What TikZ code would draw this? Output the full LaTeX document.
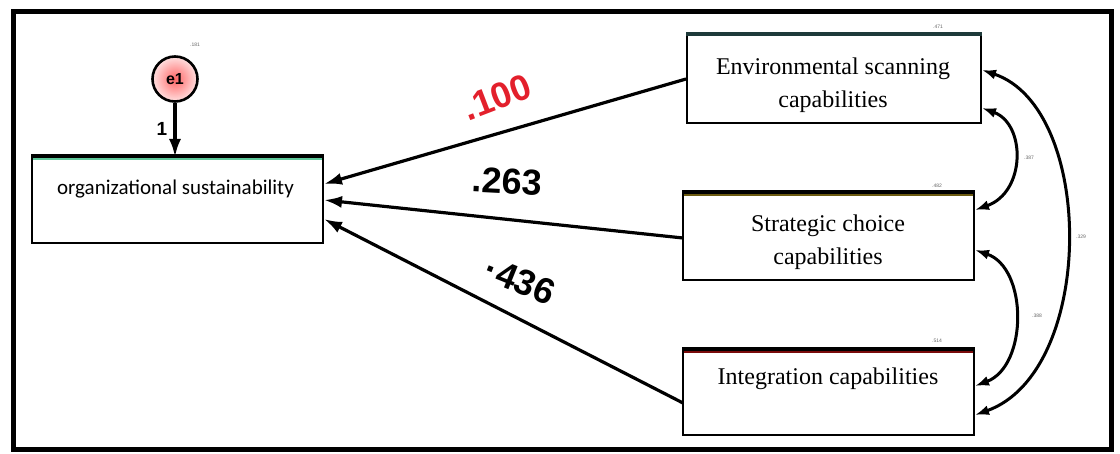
\documentclass[tikz,border=0pt]{standalone}
\usepackage{fontspec}
\setmainfont{Liberation Serif}
\newfontfamily\carl{Carlito}
\newfontfamily\lsans{Liberation Sans}
\usetikzlibrary{arrows.meta,calc}
\definecolor{coefred}{HTML}{E3202C}
\definecolor{topgreen}{HTML}{5FC79A}
\definecolor{topteal}{HTML}{1E3A3A}
\definecolor{topolive}{HTML}{6B5A10}
\definecolor{topred}{HTML}{7A0A0A}
\begin{document}
\begin{tikzpicture}[x=1pt,y=-1pt,
  box/.style={draw, line width=2pt, fill=white, inner sep=0pt},
  pathar/.style={line width=3.2pt, -{Latex[length=18pt,width=12pt]}},
  covar/.style={line width=3pt, {Latex[length=14pt,width=10pt]}-{Latex[length=14pt,width=10pt]}},
  tinylab/.style={font=\lsans\fontsize{5}{5}\selectfont, text=gray!80!black, inner sep=0pt},
  coef/.style={font=\lsans\bfseries\fontsize{36}{36}\selectfont, inner sep=0pt},
  serifbig/.style={font=\fontsize{24}{33}\selectfont, align=center, inner sep=0pt},
  toppart/.style={line width=4pt}
]
\useasboundingbox (0,0) rectangle (1120,454);
\draw[line width=5pt] (13,12) rectangle (1111,449);

% boxes
\node[box, minimum width=291pt, minimum height=86pt] (org) at (177.5,200) {};
\node[box, minimum width=294pt, minimum height=88pt] (env) at (834,79) {};
\node[box, minimum width=291pt, minimum height=87pt] (strat) at (828.5,236.5) {};
\node[box, minimum width=291pt, minimum height=85pt] (integ) at (828.5,392.5) {};

\draw[toppart] (org.north west) -- (org.north east);
\draw[line width=1.4pt, topgreen] ($(org.north west)+(2,3)$) -- ($(org.north east)+(-2,3)$);
\draw[toppart, topteal] (env.north west) -- (env.north east);
\draw[toppart] (strat.north west) -- (strat.north east);
\draw[line width=1.4pt, topolive] ($(strat.north west)+(2,3)$) -- ($(strat.north east)+(-2,3)$);
\draw[toppart] (integ.north west) -- (integ.north east);
\draw[line width=1.4pt, topred] ($(integ.north west)+(2,3)$) -- ($(integ.north east)+(-2,3)$);

% box texts
\node[font=\carl\fontsize{21}{25}\selectfont, inner sep=0pt] (orgt) at (175.5,189) {organizational sustainability};
\node[serifbig] (envt) at (833,85) {Environmental scanning\\capabilities};
\node[serifbig] (stratt) at (828,242) {Strategic choice\\capabilities};
\node[serifbig] (integt) at (828,379) {Integration capabilities};

% error term
\node[circle, draw, line width=2.6pt, minimum size=45pt, inner sep=0pt,
      inner color=red!60!white, outer color=red!12!white,
      font=\lsans\bfseries\fontsize{16}{16}\selectfont] (e1) at (175,79) {e1};
\coordinate (o0) at (175,157);
\draw[pathar] (e1) -- (o0);
\node[font=\lsans\bfseries\fontsize{19}{19}\selectfont, inner sep=0pt] (one) at (162,129) {1};

% tiny labels
\node[tinylab] (e1v) at (195,45) {.181};
\node[tinylab] (envv) at (938,27) {.471};
\node[tinylab] (stratv) at (937,186) {.482};
\node[tinylab] (integv) at (937,341) {.514};
\node[tinylab] (c1v) at (1029,158) {.387};
\node[tinylab] (c2v) at (1081,237) {.329};
\node[tinylab] (c3v) at (1037,316) {.388};

% regression paths
\coordinate (o1) at (324,184);
\coordinate (o2) at (324,200);
\coordinate (o3) at (324,219);
\coordinate (s1) at (683,238);
\coordinate (i1) at (683,403);
\draw[pathar] (env.west) -- (o1);
\draw[pathar] (s1) -- (o2);
\draw[pathar] (i1) -- (o3);

\node[coef, text=coefred, rotate=21] (b1) at (497,97) {.100};
\node[coef, rotate=-3] (b2) at (507,181) {.263};
\node[coef, rotate=-22] (b3) at (520,281) {·436};

% covariances
\coordinate (ea) at (982,70);
\coordinate (eb) at (982,108);
\coordinate (sa) at (975,210);
\coordinate (sb) at (975,250);
\coordinate (ia) at (975,386);
\coordinate (ib) at (975,415);
\draw[covar] (eb) .. controls (1026,124) and (1026,192) .. (sa);
\draw[covar] (sb) .. controls (1028,268) and (1028,366) .. (ia);
\draw[covar] (ea) .. controls (1096,108) and (1096,372) .. (ib);
\end{tikzpicture}
\end{document}
